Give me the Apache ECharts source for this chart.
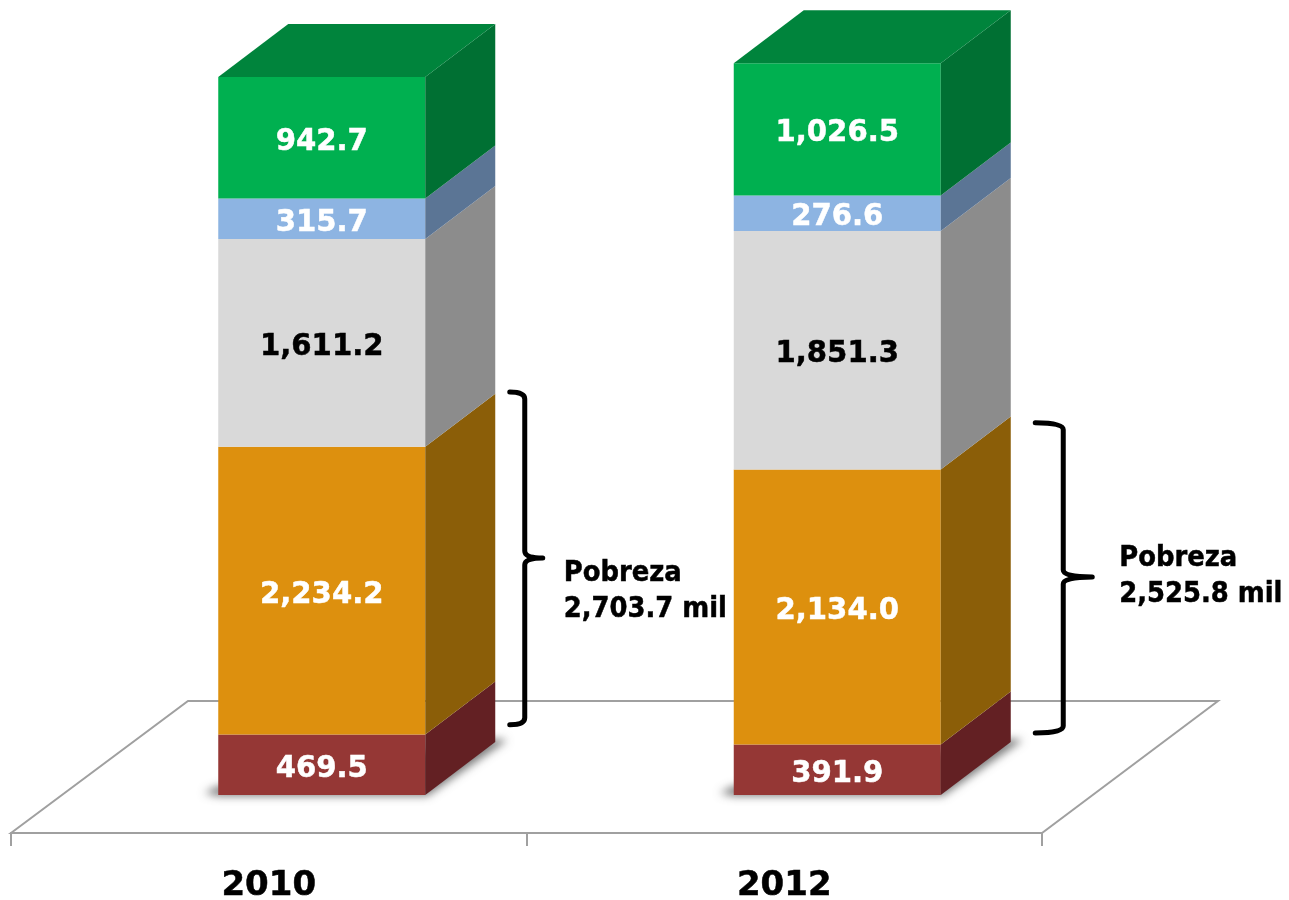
<!DOCTYPE html>
<html>
<head>
<meta charset="utf-8">
<title>Pobreza 2010 - 2012</title>
<script src="https://cdn.jsdelivr.net/npm/echarts@6/dist/echarts.min.js"></script>
<style>
  html, body { margin: 0; padding: 0; background: #fff; }
  #chart { width: 1289px; height: 900px; }
</style>
</head>
<body>
<div id="chart"></div>
<script>
  const years = ['2010', '2012'];
  // bottom to top
  const pobrezaExtrema = [469.5, 391.9];
  const pobrezaModerada = [2234.2, 2134.0];
  const vulnerable = [1611.2, 1851.3];
  const sinCarencias = [315.7, 276.6];
  const noPobre = [942.7, 1026.5];
  const pobrezaTotal = ['2,703.7', '2,525.8'];
  // bracket ends and tip, read in axis units
  const bracketLow = [545, 482];
  const bracketHigh = [3128, 2890];
  const bracketTip = [1840, 1692];

  const FONT = '"DejaVu Sans", Verdana, sans-serif';
  const BAR_SHIFT = 53;
  const BAR_HALF = 103.5;
  const DEPTH_X = 70;
  const DEPTH_Y = 53;
  const FLOOR_DROP = 38;
  const FLOOR_X = 177;
  const FLOOR_Y = 132;
  const OFFSCREEN = 3000;
  // x offsets from the axis band centre, one per year
  const bracketX = [
    { left: 241, spine: 256, tip: 274, text: 295 },
    { left: 251, spine: 279, tip: 308, text: 335 },
  ];
  const textCentre = [592, 577];

  const bands = [
    { name: 'Pobreza extrema', values: pobrezaExtrema, front: '#953735', side: '#632023', text: '#fff' },
    { name: 'Pobreza moderada', values: pobrezaModerada, front: '#DD900E', side: '#8B5E08', text: '#fff' },
    { name: 'Vulnerable', values: vulnerable, front: '#D9D9D9', side: '#8C8C8C', text: '#000' },
    { name: 'Sin carencias', values: sinCarencias, front: '#8DB4E2', side: '#5B7595', text: '#fff' },
    { name: 'No pobre', values: noPobre, front: '#00B050', side: '#007033', top: '#00843C', text: '#fff' },
  ];

  function fmt(v) {
    return v.toLocaleString('en-US', { minimumFractionDigits: 1, maximumFractionDigits: 1 });
  }

  function poly(points, fill) {
    return { type: 'polygon', shape: { points: points }, style: { fill: fill, stroke: null } };
  }

  // DejaVu is wider than the reference face, so it is squeezed a little and thickened
  function boldText(x, y, text, size, fill, align, lineHeight) {
    return {
      type: 'text',
      x: x,
      y: y,
      scaleX: 0.94,
      style: {
        x: 0,
        y: 0,
        text: text,
        fill: fill,
        stroke: fill,
        lineWidth: 0.5,
        font: 'bold ' + size + 'px ' + FONT,
        lineHeight: lineHeight,
        textAlign: align,
        textVerticalAlign: 'middle',
      },
    };
  }

  function renderBand(band) {
    return function (params, api) {
      const bottom = api.coord([api.value(0), api.value(1)]);
      const top = api.coord([api.value(0), api.value(2)]);
      const x0 = bottom[0] + BAR_SHIFT - BAR_HALF;
      const x1 = bottom[0] + BAR_SHIFT + BAR_HALF;
      const children = [
        poly([[x0, top[1]], [x1, top[1]], [x1, bottom[1]], [x0, bottom[1]]], band.front),
        poly([[x1, top[1]], [x1 + DEPTH_X, top[1] - DEPTH_Y], [x1 + DEPTH_X, bottom[1] - DEPTH_Y], [x1, bottom[1]]], band.side),
      ];
      if (band.top) {
        children.push(poly([[x0, top[1]], [x0 + DEPTH_X, top[1] - DEPTH_Y], [x1 + DEPTH_X, top[1] - DEPTH_Y], [x1, top[1]]], band.top));
      }
      children.push(boldText((x0 + x1) / 2, (top[1] + bottom[1]) / 2 + 4, fmt(api.value(3)), 31, band.text, 'center'));
      return { type: 'group', children: children };
    };
  }

  function renderFloor(params) {
    const cs = params.coordSys;
    const y0 = cs.y + cs.height + FLOOR_DROP;
    const x0 = cs.x;
    const x1 = cs.x + cs.width;
    return {
      type: 'polygon',
      shape: { points: [[x0, y0], [x0 + FLOOR_X, y0 - FLOOR_Y], [x1 + FLOOR_X - 1, y0 - FLOOR_Y], [x1, y0]] },
      style: { fill: '#fff', stroke: '#A0A0A0', lineWidth: 2 },
    };
  }

  // only the blurred shadow lands on the page, the polygon itself sits off to the left
  function renderShadow(params, api) {
    const base = api.coord([api.value(0), 0]);
    const x0 = base[0] + BAR_SHIFT - BAR_HALF;
    const x1 = base[0] + BAR_SHIFT + BAR_HALF;
    const y = base[1];
    const points = [
      [x0 - 14, y - 2],
      [x0, y - 9],
      [x0 + 10, y - 9],
      [x1 + DEPTH_X, y - DEPTH_Y - 3],
      [x1 + DEPTH_X + 12, y - DEPTH_Y - 2],
      [x1 + 2, y + 1],
      [x0, y + 1],
    ].map(function (p) { return [p[0] - OFFSCREEN, p[1]]; });
    return {
      type: 'polygon',
      shape: { points: points },
      style: {
        fill: '#000',
        stroke: null,
        shadowBlur: 8,
        shadowOffsetX: OFFSCREEN,
        shadowColor: 'rgba(70,70,70,0.7)',
      },
    };
  }

  function renderBracket(params, api) {
    const i = api.value(0);
    const cx = api.coord([i, 0])[0];
    const yLow = api.coord([i, api.value(1)])[1];
    const yHigh = api.coord([i, api.value(2)])[1];
    const yTip = api.coord([i, api.value(3)])[1];
    const b = bracketX[i];
    const l = cx + b.left, s = cx + b.spine, t = cx + b.tip;
    const path =
      'M' + l + ' ' + yHigh + ' Q' + s + ' ' + yHigh + ' ' + s + ' ' + (yHigh + 7) +
      ' L' + s + ' ' + (yTip - 7) + ' Q' + s + ' ' + yTip + ' ' + t + ' ' + yTip +
      ' Q' + s + ' ' + yTip + ' ' + s + ' ' + (yTip + 7) +
      ' L' + s + ' ' + (yLow - 7) + ' Q' + s + ' ' + yLow + ' ' + l + ' ' + yLow;
    return {
      type: 'group',
      children: [
        {
          type: 'path',
          shape: { pathData: path },
          style: { fill: null, stroke: '#000', lineWidth: 5, lineCap: 'round', lineJoin: 'round' },
        },
        boldText(cx + b.text, textCentre[i], 'Pobreza\n' + pobrezaTotal[i] + ' mil', 27.5, '#000', 'left', 36),
      ],
    };
  }

  const series = [
    {
      name: 'floor',
      type: 'custom',
      z: 1,
      silent: true,
      renderItem: renderFloor,
      data: [[0, 0]],
    },
    {
      name: 'shadow',
      type: 'custom',
      z: 2,
      silent: true,
      renderItem: renderShadow,
      data: years.map(function (y, i) { return [i, 0]; }),
    },
  ];

  const running = years.map(function () { return 0; });
  bands.forEach(function (band) {
    const data = band.values.map(function (v, i) {
      const start = running[i];
      running[i] += v;
      return [i, start, running[i], v];
    });
    series.push({
      name: band.name,
      type: 'custom',
      z: 3,
      renderItem: renderBand(band),
      encode: { x: 0, y: [1, 2] },
      data: data,
    });
  });

  series.push({
    name: 'bracket',
    type: 'custom',
    z: 4,
    silent: true,
    renderItem: renderBracket,
    encode: { x: 0, y: [1, 2, 3] },
    data: years.map(function (y, i) { return [i, bracketLow[i], bracketHigh[i], bracketTip[i]]; }),
  });

  const chart = echarts.init(document.getElementById('chart'), null, { renderer: 'canvas' });
  chart.setOption({
    animation: false,
    backgroundColor: '#fff',
    grid: { left: 11, top: 22, width: 1031, height: 773, outerBoundsMode: 'none' },
    xAxis: {
      type: 'category',
      data: years,
      offset: FLOOR_DROP,
      z: 2,
      axisLine: { onZero: false, lineStyle: { color: '#A0A0A0', width: 2 } },
      axisTick: { show: true, length: 13, alignWithLabel: false, lineStyle: { color: '#A0A0A0', width: 2 } },
      axisLabel: {
        color: '#000',
        fontFamily: FONT,
        fontWeight: 'bold',
        fontSize: 34,
        margin: 36,
        textBorderColor: '#000',
        textBorderWidth: 0.5,
      },
    },
    yAxis: { type: 'value', min: 0, max: 6000, show: false, splitLine: { show: false } },
    series: series,
  });
</script>
</body>
</html>
